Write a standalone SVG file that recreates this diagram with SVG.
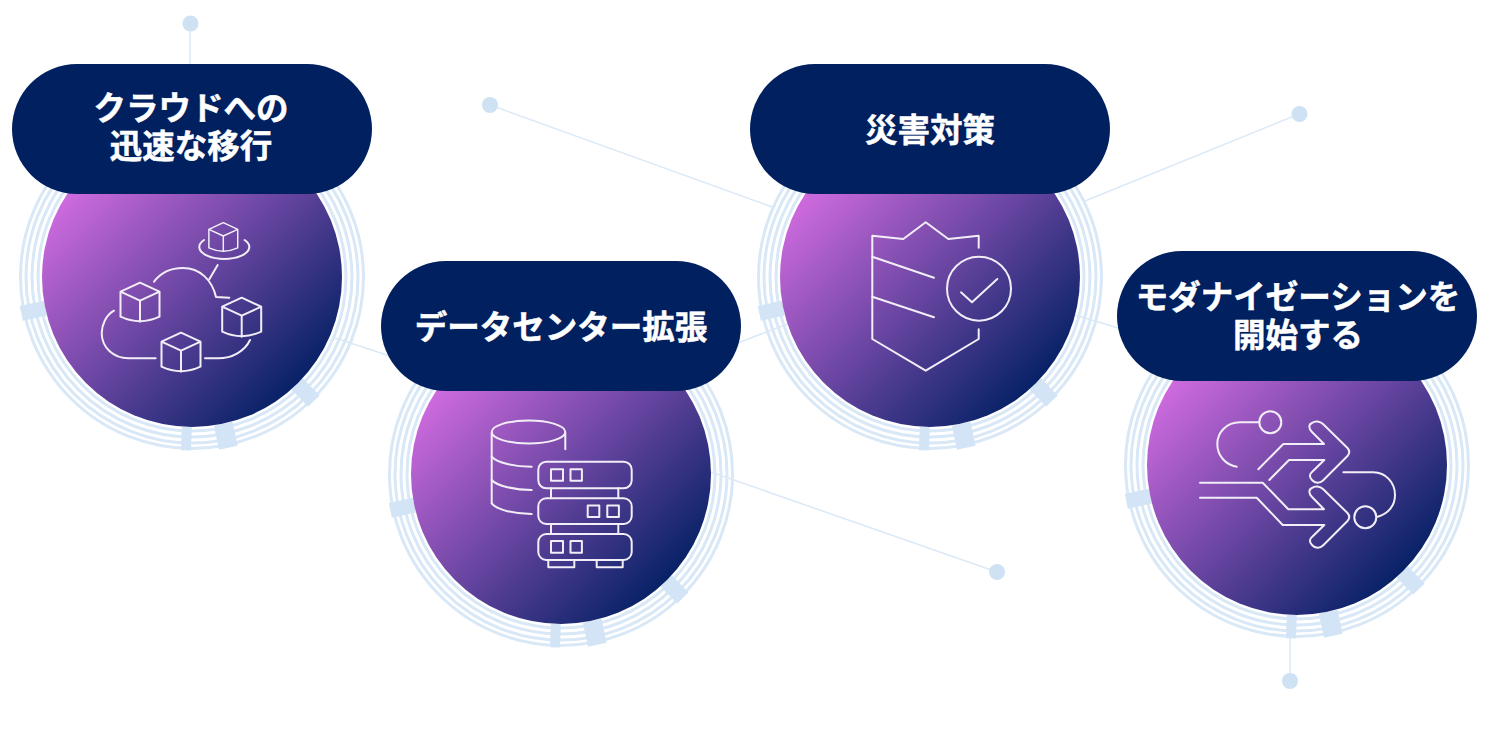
<svg xmlns="http://www.w3.org/2000/svg" xmlns:xlink="http://www.w3.org/1999/xlink" width="1500" height="752" viewBox="0 0 1500 752">
<style>
.bg{fill:#fff}
.conn{stroke:#dbe9f7;stroke-width:1.5;fill:none}
.dot{fill:#cfe2f4}
.ring{fill:none;stroke:#d9e8f6;stroke-width:3}
.tick{stroke:#d2e4f5;fill:none}
.disc{fill:url(#g)}
.pill{fill:#00205f}
.ic{fill:none;stroke:#f2eef8;stroke-width:2;stroke-linecap:round;stroke-linejoin:round}
.lbl{fill:#fff;stroke:#fff;stroke-width:.5;font-family:"Noto Sans CJK JP","Noto Sans",sans-serif;font-weight:700;font-size:32.500px;text-anchor:middle}
</style>
<defs>
<linearGradient id="g" x1="0.12" y1="0.12" x2="0.88" y2="0.88">
<stop offset="0" stop-color="#d86ee4"/>
<stop offset="1" stop-color="#001f62"/>
</linearGradient>
<g id="rings">
<circle class="ring" r="154"/><circle class="ring" r="160"/><circle class="ring" r="166"/><circle class="ring" r="171.500"/>
<path class="tick" stroke-width="15" d="M-146.700 31.200L-170.700 36.300"/>
<path class="tick" stroke-width="16" d="M105.100 106.800L121.900 124"/>
<path class="tick" stroke-width="19" d="M31.200 146.700L36.300 170.700"/>
<path class="tick" stroke-width="10" d="M-5.200 149.900L-6 173.400"/>
</g>
<g id="cube">
<path class="ic" d="M0 0L-19.500 9V34Q0 43 19.500 34V9ZM-19.500 9L0 18L19.500 9M0 18V39"/>
</g>
</defs>
<rect class="bg" width="1500" height="752"/>
<g id="connectors">
<path class="conn" d="M190 23V64"/>
<path class="conn" d="M490 105L775 208"/>
<path class="conn" d="M1299 114L1085 201"/>
<path class="conn" d="M997 572L711 472"/>
<path class="conn" d="M1290 681V612"/>
<path class="conn" d="M332 337L390 356"/>
<path class="conn" d="M735 344L790 323"/>
<path class="conn" d="M1075 315L1125 330"/>
<circle class="dot" cx="190.500" cy="23.500" r="8"/>
<circle class="dot" cx="490" cy="105" r="8"/>
<circle class="dot" cx="1299.500" cy="114" r="8"/>
<circle class="dot" cx="997" cy="572" r="8"/>
<circle class="dot" cx="1290" cy="681" r="8"/>
</g>
<g id="node-cloud">
<use href="#rings" x="192" y="277"/>
<circle class="disc" cx="192" cy="277" r="150"/>
<use href="#cube" transform="translate(223.300 222.700) scale(.74)"/>
<path class="ic" d="M204 240A25 12 0 1 0 244.600 240"/>
<path class="ic" d="M217.700 265L209.300 279.300"/>
<path class="ic" d="M154 281.700C162 271 174 268 183 268C200 268 212 280 216 297L229.300 297.700"/>
<path class="ic" d="M114 310.700C106 315 101.700 325 101.700 333C101.700 348 114 358.300 128.300 358.300H155.700"/>
<path class="ic" d="M205 358.300H218.300C232 358.300 245 351 250 340"/>
<use href="#cube" x="140" y="282.700"/>
<use href="#cube" x="241.700" y="297.700"/>
<use href="#cube" x="181" y="332.700"/>
<rect class="pill" x="12" y="64" width="360" height="130" rx="65"/>
<text class="lbl"><tspan x="191" y="120">クラウドへの</tspan><tspan x="191" y="158">迅速な移行</tspan></text>
</g>
<g id="node-datacenter">
<use href="#rings" x="561" y="474"/>
<circle class="disc" cx="561" cy="474" r="150"/>
<ellipse class="ic" cx="528.500" cy="432" rx="36.800" ry="11.500"/>
<path class="ic" d="M565.300 433V449.300M491.700 433V503.300"/>
<path class="ic" d="M491.700 456.700C497 463 515 466.700 531.700 466.700M491.700 480C497 486 515 490 531.700 490M491.700 503.300C497 510 515 514 531.700 514"/>
<rect class="ic" x="538.300" y="461.700" width="93.400" height="26.600" rx="8"/>
<rect class="ic" x="538.300" y="498.300" width="93.400" height="25.700" rx="8"/>
<rect class="ic" x="538.300" y="534" width="93.400" height="26" rx="8"/>
<path class="ic" d="M551 488.300V498.300M618.300 488.300V498.300M551 524V534M618.300 524V534"/>
<path class="ic" d="M548.300 560V567.300H574.300V560M596.700 560V567.300H622.700V560"/>
<rect class="ic" x="551" y="469.300" width="12" height="11.400"/>
<rect class="ic" x="570.500" y="469.300" width="11.400" height="11.400"/>
<rect class="ic" x="587.700" y="505.500" width="11.600" height="11.400"/>
<rect class="ic" x="607.300" y="505.500" width="11.600" height="11.400"/>
<rect class="ic" x="551" y="541" width="12" height="11.700"/>
<rect class="ic" x="570.500" y="541" width="11.400" height="11.700"/>
<rect class="pill" x="381" y="261" width="360" height="130" rx="65"/>
<text class="lbl" x="561" y="339">データセンター拡張</text>
</g>
<g id="node-disaster">
<use href="#rings" x="930" y="277"/>
<circle class="disc" cx="930" cy="277" r="150"/>
<path class="ic" d="M978.700 247.700V235.700L948.300 239L925.700 222.300L903.300 239L872.300 235.700V339L925.700 370.700L978.700 339V329.300"/>
<path class="ic" d="M872.300 256.700L934 277.700M872.300 296.700L934 317.300"/>
<circle class="ic" cx="979" cy="288.700" r="32"/>
<path class="ic" d="M961 292.300L972 302.300L997.300 279"/>
<rect class="pill" x="750" y="64" width="360" height="130" rx="65"/>
<text class="lbl" x="930" y="141.500">災害対策</text>
</g>
<g id="node-modernize">
<use href="#rings" x="1297" y="465"/>
<circle class="disc" cx="1297" cy="465" r="150"/>
<circle class="ic" cx="1270.300" cy="422.300" r="11"/>
<circle class="ic" cx="1365.300" cy="517.300" r="11"/>
<path class="ic" d="M1259.300 422.300H1240C1226 422.300 1217.300 433 1217.300 444C1217.300 456 1226 465 1236.700 466.700"/>
<path class="ic" d="M1343.300 472.300H1373.300C1386 472.300 1395 483 1395 495C1395 506 1388 514 1377.700 516.700"/>
<path class="ic" d="M1258.300 469.300L1283.300 444H1324L1312 432C1308 428 1309 424 1312 423C1315 420.500 1320 421 1323 424L1347.500 448Q1351 452 1347.500 456L1323 480.500C1320 483.500 1315 483.500 1312 480C1309 477 1309.500 474 1312 472L1324.300 460H1289L1269.300 480"/>
<path class="ic" d="M1200 482.700H1262.700L1288.300 509.300H1324L1312 497C1308 493 1309 489 1312 488C1315 485.500 1320 486 1323 489L1347.500 513Q1351 517 1347.500 521L1323 545.500C1320 548.500 1315 548.500 1312 545C1309 542 1309.500 539 1312 537L1324.300 525H1282.700L1256.700 497.700H1200"/>
<rect class="pill" x="1117" y="251" width="360" height="130" rx="65"/>
<text class="lbl"><tspan x="1298" y="309">モダナイゼーションを</tspan><tspan x="1298" y="347">開始する</tspan></text>
</g>
</svg>
